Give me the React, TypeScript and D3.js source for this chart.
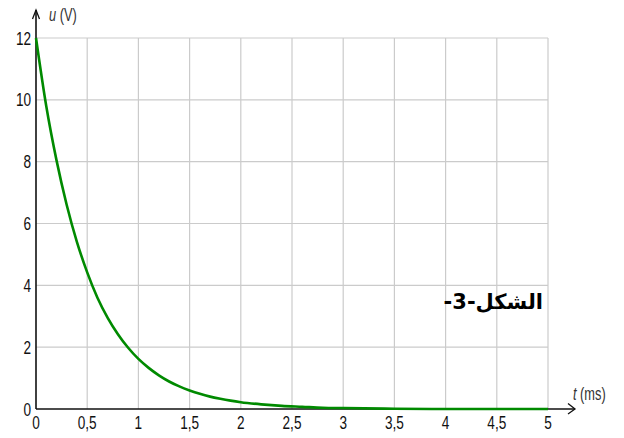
import React from "react";
import * as d3 from "d3";

// values (t in ms, u in V)
const timeMs = [0, 0.1, 0.2, 0.3, 0.4, 0.5, 0.6, 0.7, 0.8, 0.9, 1.0, 1.1, 1.2, 1.3, 1.4, 1.5, 1.6, 1.7, 1.8, 1.9, 2.0, 2.2, 2.4, 2.6, 2.8, 3.0, 3.5, 4.0, 4.5, 5.0];
const voltage = [12, 9.8, 8.05, 6.6, 5.4, 4.42, 3.6, 2.95, 2.42, 1.98, 1.62, 1.33, 1.09, 0.89, 0.73, 0.6, 0.49, 0.4, 0.33, 0.27, 0.22, 0.15, 0.1, 0.07, 0.04, 0.03, 0.01, 0, 0, 0];

const xTicks = [0, 0.5, 1, 1.5, 2, 2.5, 3, 3.5, 4, 4.5, 5];
const yTicks = [0, 2, 4, 6, 8, 10, 12];
const xLabel = "t";
const xUnit = " (ms)";
const yLabel = "u";
const yUnit = " (V)";
const figureTitle = "الشكل-3-";

const W = 624;
const H = 438;

export default function App() {
  const x = d3.scaleLinear().domain([0, 5]).range([36, 548]);
  const y = d3.scaleLinear().domain([0, 12]).range([409, 38]);

  const pts: [number, number][] = timeMs.map((t, i) => [t, voltage[i]]);
  const line = d3
    .line<[number, number]>()
    .x((d) => x(d[0]))
    .y((d) => y(d[1]))
    .curve(d3.curveMonotoneX);

  const fmt = (v: number) => String(v).replace(".", ",");
  const tickFont = "'Liberation Sans', Arial, sans-serif";
  // the original labels are tall and narrow
  const squeeze = (px: number, py: number) => `translate(${px},${py}) scale(0.8,1.12)`;

  return (
    <svg width={W} height={H} style={{ position: "absolute", left: 0, top: 0, background: "#fff" }}>
      {/* grid */}
      <g stroke="#cbcbcb" strokeWidth={1.2}>
        {xTicks.slice(1).map((t) => (
          <line key={"gx" + t} x1={x(t)} x2={x(t)} y1={y(12)} y2={y(0)} />
        ))}
        {yTicks.slice(1).map((v) => (
          <line key={"gy" + v} x1={x(0)} x2={x(5)} y1={y(v)} y2={y(v)} />
        ))}
      </g>

      {/* axes */}
      <g stroke="#111" strokeWidth={1.6} fill="none">
        <line x1={x(0)} x2={575} y1={y(0)} y2={y(0)} />
        <line x1={x(0)} x2={x(0)} y1={y(0)} y2={10} />
        <polyline points={`568,403.5 575,409 568,414`} strokeWidth={1.3} />
        <polyline points={`32.5,19 36,10 39.5,19`} strokeWidth={1.3} />
      </g>

      {/* curve */}
      <path d={line(pts) || ""} fill="none" stroke="#008a00" strokeWidth={2.6} strokeLinejoin="round" />

      {/* tick labels */}
      <g fontFamily={tickFont} fontSize={17} fill="#111">
        {xTicks.map((t) => (
          <text key={"tx" + t} transform={squeeze(x(t), 429)} textAnchor="middle">
            {fmt(t)}
          </text>
        ))}
        {yTicks.map((v) => (
          <text key={"ty" + v} transform={squeeze(31, y(v) + 6.5)} textAnchor="end">
            {v}
          </text>
        ))}
      </g>

      {/* axis titles */}
      <g fontFamily={tickFont} fontSize={16} fill="#333">
        <text transform={squeeze(49, 21)}>
          <tspan fontStyle="italic">{yLabel}</tspan>
          {yUnit}
        </text>
        <text transform={squeeze(573, 400)}>
          <tspan fontStyle="italic">{xLabel}</tspan>
          {xUnit}
        </text>
      </g>

      <text
        x={543}
        y={309}
        direction="rtl"
        textAnchor="start"
        fontFamily="'DejaVu Sans', sans-serif"
        fontWeight="bold"
        fontSize={21}
        fill="#000"
      >
        {figureTitle}
      </text>
    </svg>
  );
}
